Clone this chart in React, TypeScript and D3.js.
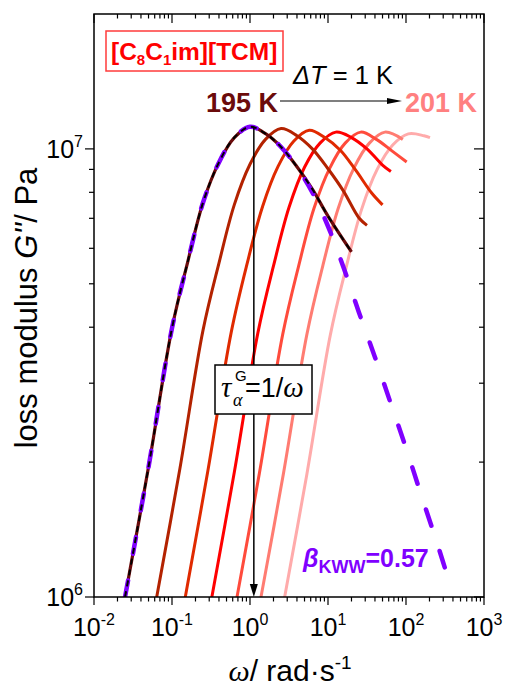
import React from "react"
import * as d3 from "d3"

// loss modulus G'' (MPa) vs angular frequency (rad/s), one sweep per temperature
const temps = ["195 K", "196 K", "197 K", "198 K", "199 K", "200 K", "201 K"]
const curveColors = ["#6b0b0b", "#b32200", "#e02a00", "#ff0000", "#ff4b3c", "#ff7c72", "#ffabab"]

const omega195 = [0.025, 0.05, 0.1, 0.16, 0.25, 0.4, 0.63, 1.0, 1.6, 2.5, 4.0, 6.3, 10, 20]
const gpp195 = [1.0, 1.95, 3.98, 5.62, 7.59, 9.33, 10.6, 11.2, 10.8, 10.1, 9.12, 8.13, 7.08, 5.89]
const omega196 = [0.063, 0.126, 0.25, 0.4, 0.63, 1.0, 1.58, 2.5, 4.0, 6.3, 10, 15.8, 25, 31.6]
const gpp196 = [0.99, 1.93, 3.94, 5.56, 7.51, 9.24, 10.5, 11.1, 10.7, 10.0, 9.03, 8.05, 7.01, 6.75]
const omega197 = [0.145, 0.288, 0.575, 0.91, 1.45, 2.29, 3.63, 5.75, 9.1, 14.5, 22.9, 36.3, 50]
const gpp197 = [0.98, 1.91, 3.9, 5.51, 7.44, 9.14, 10.4, 11.0, 10.6, 9.92, 8.94, 7.97, 7.5]
const omega198 = [0.316, 0.63, 1.26, 2.0, 3.16, 5.0, 7.9, 12.6, 20, 31.6, 50, 64]
const gpp198 = [0.975, 1.9, 3.88, 5.48, 7.4, 9.1, 10.3, 10.9, 10.6, 10.0, 9.2, 8.9]
const omega199 = [0.66, 1.32, 2.63, 4.17, 6.6, 10.5, 16.6, 26.3, 41.7, 66, 102]
const gpp199 = [0.97, 1.89, 3.86, 5.45, 7.36, 9.05, 10.3, 10.9, 10.5, 9.9, 9.35]
const omega200 = [1.34, 2.69, 5.37, 8.5, 13.5, 21.4, 33.9, 53.7, 91]
const gpp200 = [0.97, 1.89, 3.86, 5.45, 7.36, 9.05, 10.3, 10.9, 10.5]
const omega201 = [2.68, 5.36, 10.7, 17.0, 26.9, 42.7, 67.6, 107, 170, 203]
const gpp201 = [0.965, 1.88, 3.84, 5.42, 7.32, 9.0, 10.2, 10.8, 10.7, 10.6]

// KWW fit to 195 K
const omegaKww = [0.025, 0.05, 0.1, 0.16, 0.25, 0.4, 0.63, 1.0, 1.6, 2.5, 4.0, 6.3, 10, 16, 25, 40, 63, 100, 160, 250, 365]
const gppKww = [1.0, 1.95, 3.98, 5.62, 7.59, 9.33, 10.6, 11.2, 10.8, 10.1, 9.1, 8.0, 6.72, 5.41, 4.31, 3.43, 2.72, 2.15, 1.67, 1.32, 1.07]

const omegaPeak195 = 1.12
const xDecades = [0.01, 0.1, 1, 10, 100, 1000]
const xExps = ["-2", "-1", "0", "1", "2", "3"]
const yDecades = [1e6, 1e7]
const yExps = ["6", "7"]

const sans = "'Liberation Sans', Arial, Helvetica, sans-serif"
const serif = "'Liberation Serif', 'Times New Roman', serif"
const purple = "#8000ff"

const omegaSets = [omega195, omega196, omega197, omega198, omega199, omega200, omega201]
const gppSets = [gpp195, gpp196, gpp197, gpp198, gpp199, gpp200, gpp201]

export default function App() {
  const W = 507, H = 686
  const x = d3.scaleLog().domain([0.01, 1000]).range([94, 484])
  const y = d3.scaleLog().domain([1e6, 2e7]).range([597, 14])
  const [x0, x1] = x.range()
  const [y0, y1] = y.range()

  const line = d3
    .line<[number, number]>()
    .x(d => x(d[0]))
    .y(d => y(d[1] * 1e6))
    .curve(d3.curveCatmullRom.alpha(0.5))

  const series = temps.map((t, i) => ({
    key: t,
    color: curveColors[i],
    pts: omegaSets[i].map((w, j) => [w, gppSets[i][j]] as [number, number]),
  }))
  const kww = omegaKww.map((w, j) => [w, gppKww[j]] as [number, number])

  const xMinor: number[] = []
  xDecades.slice(0, -1).forEach(d => d3.range(2, 10).forEach(k => xMinor.push(d * k)))
  const yMinor = d3.range(2, 10).map(k => k * 1e6)

  const arrowX = x(omegaPeak195)
  const arrowTop = y(gpp195[7] * 1e6)

  return (
    <svg width={W} height={H} style={{ position: "absolute", left: 0, top: 0, background: "#fff" }}>
      <defs>
        <clipPath id="plotClip">
          <rect x={x0} y={y1} width={x1 - x0} height={y0 - y1} />
        </clipPath>
      </defs>
      <rect width={W} height={H} fill="#fff" />

      <g clipPath="url(#plotClip)" fill="none" strokeLinecap="butt">
        {series
          .slice(1)
          .reverse()
          .map(s => (
            <path key={s.key} d={line(s.pts) || ""} stroke={s.color} strokeWidth={3} />
          ))}
        <path d={line(series[0].pts) || ""} stroke={series[0].color} strokeWidth={3.2} />
        <path d={line(kww) || ""} stroke={purple} strokeWidth={4.5} strokeDasharray="17 27" strokeLinecap="round" />
        <path d={line(series[0].pts) || ""} stroke="#000" strokeWidth={2} strokeDasharray="6 5" />
      </g>

      {/* tau arrow */}
      <line x1={arrowX} x2={arrowX} y1={arrowTop} y2={y0 - 10} stroke="#000" strokeWidth={1.5} />
      <path d={`M${arrowX - 4},${y0 - 13}L${arrowX + 4},${y0 - 13}L${arrowX},${y0}Z`} fill="#000" />

      {/* axes frame and ticks */}
      <rect x={x0} y={y1} width={x1 - x0} height={y0 - y1} fill="none" stroke="#000" strokeWidth={1.5} />
      <g stroke="#000" strokeWidth={1.2}>
        {xDecades.map(d => (
          <g key={"xd" + d}>
            <line x1={x(d)} x2={x(d)} y1={y0} y2={y0 + 8} />
            <line x1={x(d)} x2={x(d)} y1={y1} y2={y1 + 9} />
          </g>
        ))}
        {xMinor.map(d => (
          <g key={"xm" + d}>
            <line x1={x(d)} x2={x(d)} y1={y0} y2={y0 + 4.5} />
            <line x1={x(d)} x2={x(d)} y1={y1} y2={y1 + 4.5} />
          </g>
        ))}
        {yDecades.map(d => (
          <g key={"yd" + d}>
            <line x1={x0} x2={x0 - 9} y1={y(d)} y2={y(d)} />
            <line x1={x1} x2={x1 - 10} y1={y(d)} y2={y(d)} />
          </g>
        ))}
        {yMinor.map(d => (
          <g key={"ym" + d}>
            <line x1={x0} x2={x0 - 5} y1={y(d)} y2={y(d)} />
            <line x1={x1} x2={x1 - 5} y1={y(d)} y2={y(d)} />
          </g>
        ))}
      </g>

      <g fontFamily={sans} fill="#000">
        {xDecades.map((d, i) => (
          <text key={"xl" + d} x={x(d)} y={636} textAnchor="middle" fontSize={25}>
            10<tspan fontSize={16} dy={-11}>{xExps[i]}</tspan>
          </text>
        ))}
        {yDecades.map((d, i) => (
          <text key={"yl" + d} x={83} y={y(d) + 9} textAnchor="end" fontSize={25}>
            10<tspan fontSize={16} dy={-11}>{yExps[i]}</tspan>
          </text>
        ))}
        <text x={290} y={681} textAnchor="middle" fontSize={30}>
          <tspan fontFamily={serif} fontStyle="italic">ω</tspan>/ rad·s
          <tspan fontSize={19} dy={-12}>-1</tspan>
        </text>
        <text transform="translate(37,308) rotate(-90)" textAnchor="middle" fontSize={31}>
          loss modulus <tspan fontStyle="italic">G''</tspan>/ Pa
        </text>
      </g>

      {/* sample label */}
      <rect x={106} y={31} width={177} height={40} fill="#fff" stroke="#ff3b3b" strokeWidth={1.5} />
      <text x={111} y={60} fontFamily={sans} fontWeight="bold" fontSize={24.5} fill="#ff0000">
        [C<tspan fontSize={15} dy={5}>8</tspan>
        <tspan dy={-5}>C</tspan>
        <tspan fontSize={15} dy={5}>1</tspan>
        <tspan dy={-5}>im][TCM]</tspan>
      </text>

      {/* temperature arrow */}
      <text x={293} y={84} fontFamily={sans} fontSize={25.5} fill="#000">
        <tspan fontStyle="italic">ΔT</tspan> = 1 K
      </text>
      <text x={278} y={112} textAnchor="end" fontFamily={sans} fontWeight="bold" fontSize={27} fill={curveColors[0]}>
        {temps[0]}
      </text>
      <text x={405} y={112} fontFamily={sans} fontWeight="bold" fontSize={27} fill="#ff8080">
        {temps[temps.length - 1]}
      </text>
      <line x1={280} x2={390} y1={101} y2={101} stroke="#000" strokeWidth={1.1} />
      <path d="M387,98L402,101L387,104Z" fill="#000" />

      {/* tau box */}
      <rect x={215} y={365} width={97} height={49} fill="#fff" stroke="#000" strokeWidth={1.5} />
      <text x={221} y={397} fontFamily={serif} fontStyle="italic" fontSize={29}>τ</text>
      <text x={235} y={381} fontFamily={sans} fontSize={15}>G</text>
      <text x={233} y={406} fontFamily={serif} fontStyle="italic" fontSize={18}>α</text>
      <text x={245} y={397} fontFamily={sans} fontSize={27}>
        =1/<tspan fontFamily={serif} fontStyle="italic" fontSize={29}>ω</tspan>
      </text>

      {/* KWW label */}
      <text x={303} y={567} fontFamily={sans} fontWeight="bold" fontSize={25} fill={purple}>
        <tspan fontStyle="italic">β</tspan>
        <tspan fontSize={18} dy={6}>KWW</tspan>
        <tspan dy={-6}>=0.57</tspan>
      </text>
    </svg>
  )
}
